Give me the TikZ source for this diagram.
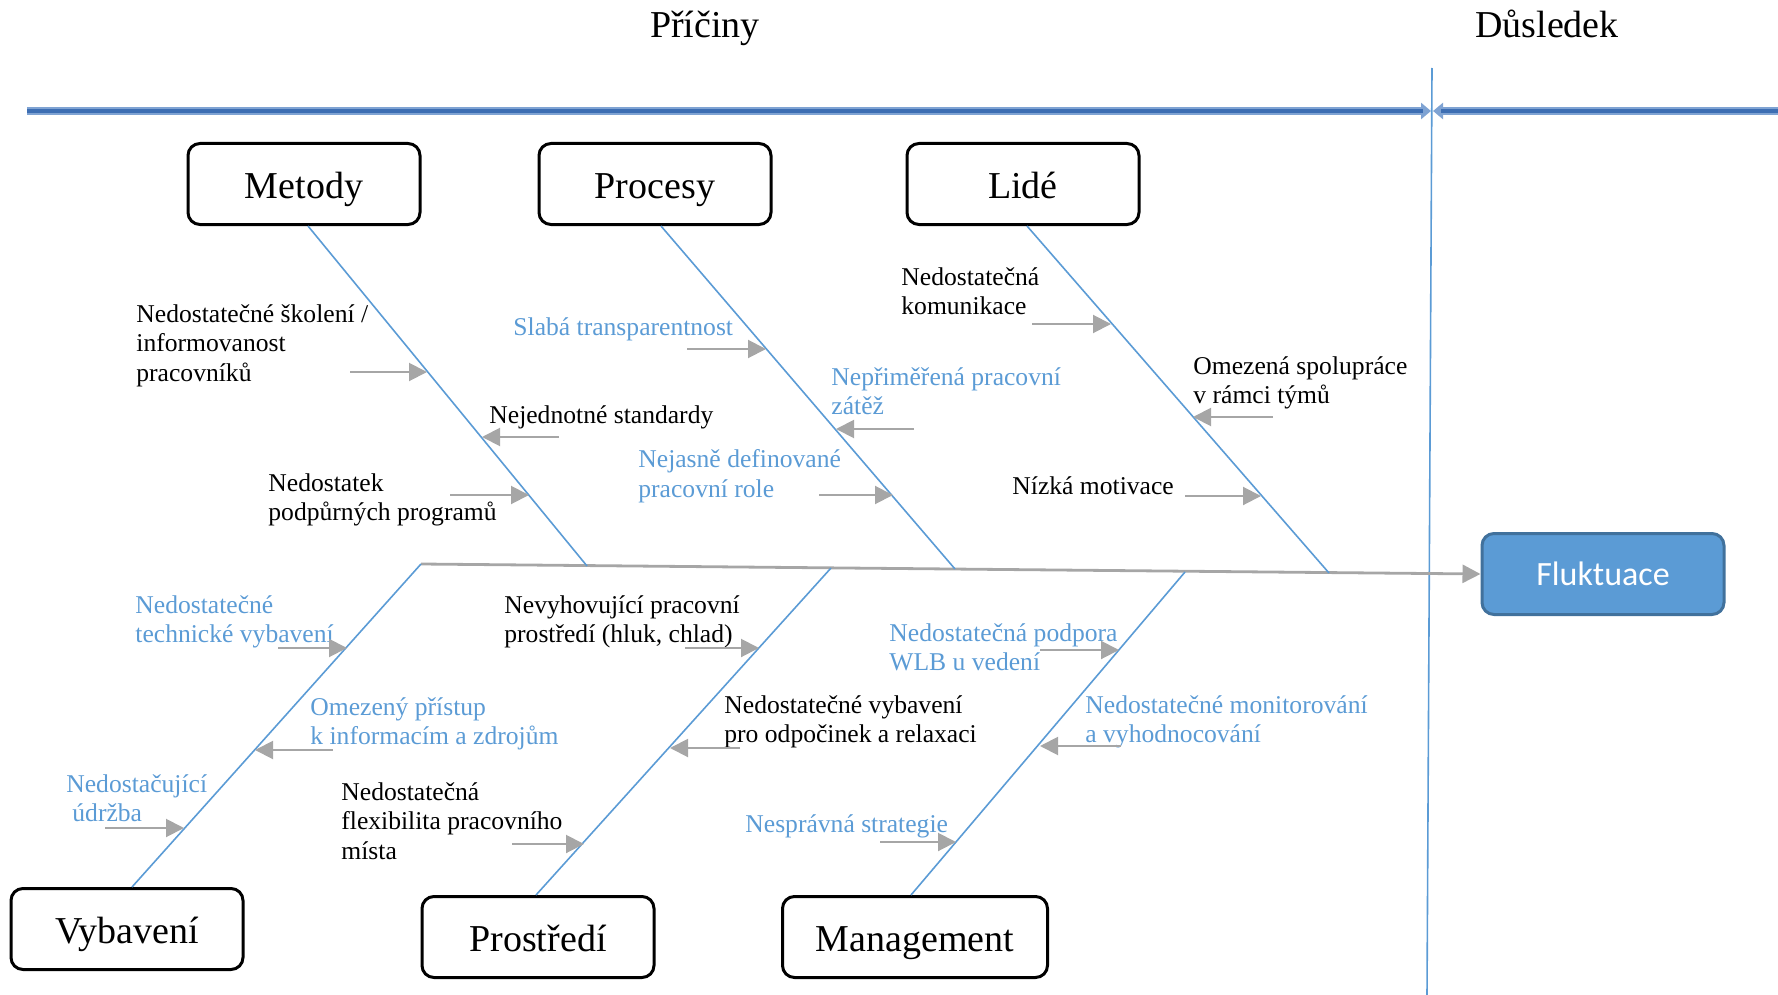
\documentclass[tikz,border=0pt]{standalone}
\usepackage{fontspec}
\setmainfont{Liberation Serif}
\newfontfamily\calibrifont{Carlito}
\usetikzlibrary{arrows.meta,calc}
\definecolor{branchblue}{HTML}{5B9BD5}
\definecolor{labelblue}{HTML}{5B9BD5}
\definecolor{causegray}{HTML}{A6A6A6}
\definecolor{barouter}{HTML}{7FA3D3}
\definecolor{barinner}{HTML}{3D6EB3}
\definecolor{flukfill}{HTML}{5B9BD5}
\definecolor{flukdraw}{HTML}{41719C}
\tikzset{
  cat/.style={draw=black, line width=1.5pt, rounded corners=6pt, minimum width=116pt,
    minimum height=40.5pt, inner sep=0pt, text height=17.5pt, text depth=3pt,
    font=\fontsize{19}{22}\selectfont},
  lbl/.style={anchor=north west, inner sep=0pt, align=left,
    font=\fontsize{12.8}{14.8}\selectfont, execute at begin node={\rule{0pt}{12.74pt}}},
  blbl/.style={lbl, text=labelblue},
  branch/.style={draw=branchblue, line width=0.8pt},
  cause/.style={draw=causegray, line width=1pt, -{Triangle[length=9pt,width=9pt]}},
  title/.style={anchor=base, inner sep=0pt, font=\fontsize{19}{22}\selectfont},
}
\begin{document}
\begin{tikzpicture}[x=0.5pt,y=-0.5pt]
\useasboundingbox (0,0) rectangle (1778,995);
% titles
\node[title] (pric) at (705,38) {Příčiny};
\node[title] (dusl) at (1547,38) {Důsledek};
% top bar
\coordinate (barL) at (27,111);
\coordinate (barM1) at (1431,111);
\coordinate (barM2) at (1433,111);
\coordinate (barR) at (1778,111);
\draw[barouter, line width=4pt, -{Triangle[length=5pt,width=8pt]}] (barL) -- (barM1);
\draw[barinner, line width=2pt] (barL) -- ($(barM1)+(-8,0)$);
\draw[barouter, line width=4pt, -{Triangle[length=5pt,width=8pt]}] (barR) -- (barM2);
\draw[barinner, line width=2pt] (barR) -- ($(barM2)+(8,0)$);
% separator
\coordinate (sepT) at (1432,68);
\coordinate (sepB) at (1427,995);
\draw[branchblue, line width=0.8pt] (sepT) -- (sepB);
% effect
\node[draw=flukdraw, fill=flukfill, line width=1.5pt, rounded corners=6pt, minimum width=121pt,
  minimum height=40.5pt, inner sep=0pt, text=white, font=\calibrifont\fontsize{17}{20}\selectfont]
  (fluk) at (1603,574) {Fluktuace};
% spine
\coordinate (sp) at (421,564);
\draw[draw=causegray, line width=1.4pt, -{Triangle[length=9pt,width=9pt]}] (sp) -- (fluk.west);
% category boxes
\node[cat] (metody) at (304,184) {Metody};
\node[cat] (procesy) at (655,184) {Procesy};
\node[cat] (lide) at (1023,184) {Lidé};
\node[cat] (vybaveni) at (127,929) {Vybavení};
\node[cat] (prostredi) at (538,937) {Prostředí};
\node[cat, minimum width=132.5pt] (management) at (915,937) {Management};
% spine points
\coordinate (mE) at (587,566);
\coordinate (pE) at (955,569);
\coordinate (lE) at (1329,573);
\coordinate (vE) at (421,564);
\coordinate (rE) at (831,568);
\coordinate (gE) at (1185,572);
\draw[branch] ([xshift=2pt]metody.south) -- (mE);
\draw[branch] ([xshift=3pt]procesy.south) -- (pE);
\draw[branch] ([xshift=2pt]lide.south) -- (lE);
\draw[branch] ([xshift=2.5pt]vybaveni.north) -- (vE);
\draw[branch] ([xshift=-1pt]prostredi.north) -- (rE);
\draw[branch] ([xshift=-2pt]management.north) -- (gE);
% Metody causes
\node[lbl] (c1) at (136,304) {Nedostatečné školení /\\informovanost\\pracovníků};
\draw[cause] (350,372) coordinate (c1s) -- (427,372) coordinate (c1e);
\node[lbl] (c2) at (489,398) {Nejednotné standardy};
\draw[cause] (559,437) coordinate (c2s) -- (482,437) coordinate (c2e);
\node[lbl] (c3) at (268,473) {Nedostatek\\podpůrných programů};
\draw[cause] (450,495) coordinate (c3s) -- (529,495) coordinate (c3e);
% Procesy causes
\node[blbl] (c4) at (513,310) {Slabá transparentnost};
\draw[cause] (687,349) coordinate (c4s) -- (766,349) coordinate (c4e);
\node[blbl] (c5) at (831,367) {Nepřiměřená pracovní\\zátěž};
\draw[cause] (914,429) coordinate (c5s) -- (836,429) coordinate (c5e);
\node[blbl] (c6) at (638,449) {Nejasně definované\\pracovní role};
\draw[cause] (819,495) coordinate (c6s) -- (893,495) coordinate (c6e);
% Lide causes
\node[lbl] (c7) at (901,267) {Nedostatečná\\komunikace};
\draw[cause] (1032,324) coordinate (c7s) -- (1111,324) coordinate (c7e);
\node[lbl] (c8) at (1193,356) {Omezená spolupráce\\v rámci týmů};
\draw[cause] (1273,417) coordinate (c8s) -- (1193,417) coordinate (c8e);
\node[lbl] (c9) at (1012,469) {Nízká motivace};
\draw[cause] (1185,496) coordinate (c9s) -- (1261,496) coordinate (c9e);
% Vybaveni causes
\node[blbl] (c10) at (135,595) {Nedostatečné\\technické vybavení};
\draw[cause] (278,648) coordinate (c10s) -- (347,648) coordinate (c10e);
\node[blbl] (c11) at (310,697) {Omezený přístup\\k informacím a zdrojům};
\draw[cause] (333,750) coordinate (c11s) -- (255,750) coordinate (c11e);
\node[blbl] (c12) at (66,774) {Nedostačující\\\hspace*{3pt}údržba};
\draw[cause] (105,828) coordinate (c12s) -- (184,828) coordinate (c12e);
% Prostredi causes
\node[lbl] (c13) at (504,595) {Nevyhovující pracovní\\prostředí (hluk, chlad)};
\draw[cause] (685,648) coordinate (c13s) -- (759,648) coordinate (c13e);
\node[lbl] (c14) at (724,695) {Nedostatečné vybavení\\pro odpočinek a relaxaci};
\draw[cause] (740,748) coordinate (c14s) -- (670,748) coordinate (c14e);
\node[lbl] (c15) at (341,782) {Nedostatečná\\flexibilita pracovního\\místa};
\draw[cause] (512,844) coordinate (c15s) -- (584,844) coordinate (c15e);
% Management causes
\node[blbl] (c16) at (889,623) {Nedostatečná podpora\\WLB u vedení};
\draw[cause] (1040,650) coordinate (c16s) -- (1119,650) coordinate (c16e);
\node[blbl] (c17) at (1085,695) {Nedostatečné monitorování\\a vyhodnocování};
\draw[cause] (1121,746) coordinate (c17s) -- (1040,746) coordinate (c17e);
\node[blbl] (c18) at (745,807) {Nesprávná strategie};
\draw[cause] (880,842) coordinate (c18s) -- (956,842) coordinate (c18e);
\end{tikzpicture}
\end{document}
